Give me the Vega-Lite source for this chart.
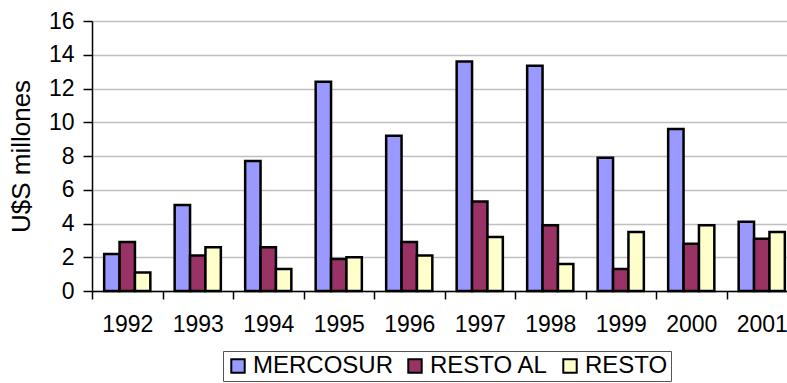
{
  "$schema": "https://vega.github.io/schema/vega-lite/v6.json",
  "autosize": {"type": "none"},
  "padding": {"left": 92, "top": 21, "right": 0, "bottom": 92},
  "width": 705,
  "height": 270,
  "background": "white",
  "config": {
    "view": {"stroke": null},
    "font": "Liberation Sans"
  },
  "data": {
    "values": [
      {"year": "1992", "region": "MERCOSUR", "value": 2.2},
      {"year": "1992", "region": "RESTO AL", "value": 2.9},
      {"year": "1992", "region": "RESTO", "value": 1.1},
      {"year": "1993", "region": "MERCOSUR", "value": 5.1},
      {"year": "1993", "region": "RESTO AL", "value": 2.1},
      {"year": "1993", "region": "RESTO", "value": 2.6},
      {"year": "1994", "region": "MERCOSUR", "value": 7.7},
      {"year": "1994", "region": "RESTO AL", "value": 2.6},
      {"year": "1994", "region": "RESTO", "value": 1.3},
      {"year": "1995", "region": "MERCOSUR", "value": 12.4},
      {"year": "1995", "region": "RESTO AL", "value": 1.9},
      {"year": "1995", "region": "RESTO", "value": 2.0},
      {"year": "1996", "region": "MERCOSUR", "value": 9.2},
      {"year": "1996", "region": "RESTO AL", "value": 2.9},
      {"year": "1996", "region": "RESTO", "value": 2.1},
      {"year": "1997", "region": "MERCOSUR", "value": 13.6},
      {"year": "1997", "region": "RESTO AL", "value": 5.3},
      {"year": "1997", "region": "RESTO", "value": 3.2},
      {"year": "1998", "region": "MERCOSUR", "value": 13.35},
      {"year": "1998", "region": "RESTO AL", "value": 3.9},
      {"year": "1998", "region": "RESTO", "value": 1.6},
      {"year": "1999", "region": "MERCOSUR", "value": 7.9},
      {"year": "1999", "region": "RESTO AL", "value": 1.3},
      {"year": "1999", "region": "RESTO", "value": 3.5},
      {"year": "2000", "region": "MERCOSUR", "value": 9.6},
      {"year": "2000", "region": "RESTO AL", "value": 2.8},
      {"year": "2000", "region": "RESTO", "value": 3.9},
      {"year": "2001", "region": "MERCOSUR", "value": 4.1},
      {"year": "2001", "region": "RESTO AL", "value": 3.1},
      {"year": "2001", "region": "RESTO", "value": 3.5}
    ]
  },
  "mark": {"type": "bar", "stroke": "#000000", "strokeWidth": 2.5},
  "encoding": {
    "x": {
      "field": "year",
      "type": "nominal",
      "scale": {"paddingInner": 0, "paddingOuter": 0},
      "axis": {
        "title": null,
        "labelAngle": 0,
        "labelFontSize": 23,
        "labelColor": "#000000",
        "labelPadding": 14,
        "domainColor": "#000000",
        "domainWidth": 1.5,
        "tickColor": "#000000",
        "tickWidth": 1.5,
        "tickSize": 8,
        "tickBand": "extent",
        "grid": false
      }
    },
    "xOffset": {
      "field": "region",
      "type": "nominal",
      "sort": ["MERCOSUR", "RESTO AL", "RESTO"],
      "scale": {"paddingInner": 0, "paddingOuter": 0.79}
    },
    "y": {
      "field": "value",
      "type": "quantitative",
      "scale": {"domain": [0, 16], "nice": false},
      "axis": {
        "title": "U$S millones",
        "titleFontSize": 26,
        "titleFontWeight": "normal",
        "titleColor": "#000000",
        "titlePadding": 14,
        "values": [0, 2, 4, 6, 8, 10, 12, 14, 16],
        "labelFontSize": 23,
        "labelColor": "#000000",
        "labelPadding": 9,
        "domainColor": "#000000",
        "domainWidth": 1.5,
        "tickColor": "#000000",
        "tickWidth": 1.5,
        "tickSize": 9,
        "gridColor": "#c0c0c0",
        "gridWidth": 1.5
      }
    },
    "fill": {
      "field": "region",
      "type": "nominal",
      "sort": ["MERCOSUR", "RESTO AL", "RESTO"],
      "scale": {
        "domain": ["MERCOSUR", "RESTO AL", "RESTO"],
        "range": ["#9999FF", "#993366", "#FFFFCC"]
      },
      "legend": {
        "title": null,
        "orient": "none",
        "legendX": 131,
        "legendY": 330,
        "direction": "horizontal",
        "labelFontSize": 24,
        "labelColor": "#000000",
        "labelOffset": 3,
        "symbolType": "square",
        "symbolSize": 180,
        "symbolStrokeColor": "#000000",
        "symbolStrokeWidth": 2,
        "columnPadding": 9,
        "strokeColor": "#555555",
        "padding": 3
      }
    }
  }
}
